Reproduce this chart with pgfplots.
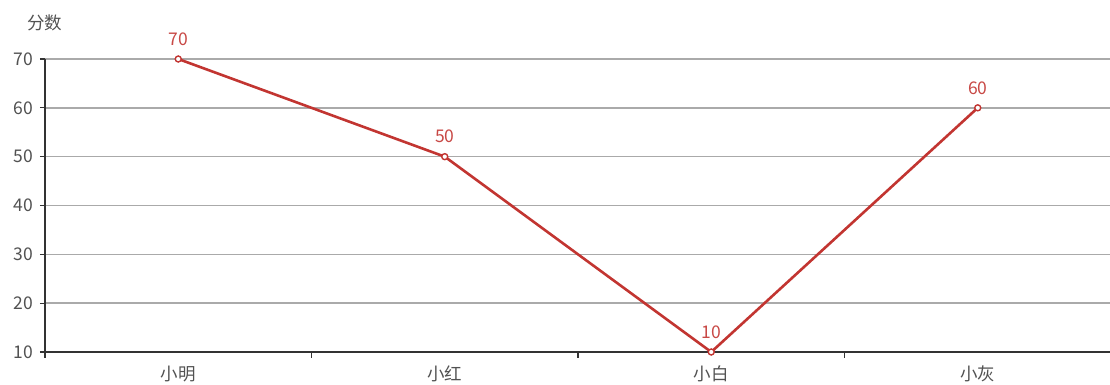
\documentclass[border=0pt]{standalone}
\usepackage{pgfplots}
\pgfplotsset{compat=1.18}
\usepackage{fontspec}
\setmainfont{Noto Sans CJK SC}
\definecolor{ser}{HTML}{C23531}
\definecolor{axc}{HTML}{333333}
\definecolor{gridc}{HTML}{AAAAAA}
\begin{document}
\fontsize{17.5}{20}\selectfont
\begin{tikzpicture}
\begin{axis}[
  scale only axis,
  width=1066pt, height=293pt,
  xmin=-0.5, xmax=3.5,
  ymin=10, ymax=70,
  ytick={10,20,30,40,50,60,70},
  xtick={0,1,2,3},
  xticklabels={小明,小红,小白,小灰},
  minor xtick={-0.5,0.5,1.5,2.5,3.5},
  axis x line=bottom, axis y line=left,
  axis line style={axc, line width=1.2pt, -},
  x axis line style={-},
  y axis line style={-},
  ymajorgrids, major grid style={gridc, line width=1.4pt},
  tick align=outside,
  xtick style={/pgfplots/major tick length=0pt},
  minor x tick style={axc, line width=1.2pt},
  minor tick length=6pt,
  ytick style={axc, line width=1.2pt},
  major tick length=5pt,
  tick label style={font=\fontsize{17.5}{20}\selectfont, text=axc!85},
  yticklabel style={xshift=-1pt},
  xticklabel style={yshift=-3pt},
  /pgf/number format/assume math mode=true,
  clip=false,
  nodes near coords,
  every node near coord/.append style={font=\fontsize{17.5}{20}\selectfont, text=ser!90, yshift=7pt},
]
\addplot[ser, line width=2.6pt, mark=*, mark size=3pt, mark options={fill=white, draw=ser, line width=1.4pt}]
  coordinates {(0,70) (1,50) (2,10) (3,60)};
\node[font=\fontsize{17.5}{20}\selectfont, text=axc!85] at (rel axis cs:0,1) [yshift=36pt] {分数};
\end{axis}
\pgfresetboundingbox
\path (-45pt,-33pt) rectangle (1065pt,352pt);
\end{tikzpicture}
\end{document}
